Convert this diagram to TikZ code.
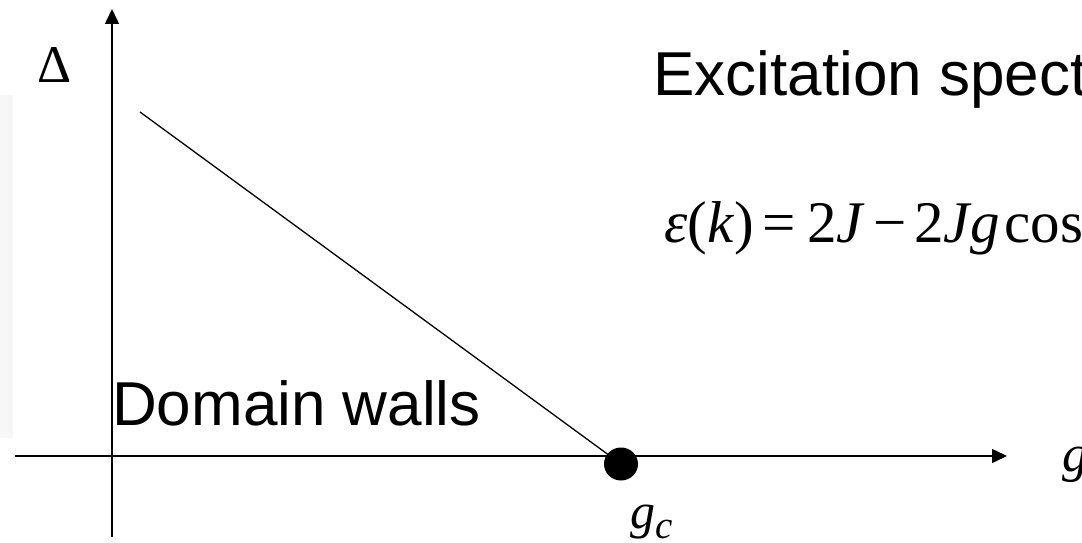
\documentclass[tikz,border=0pt]{standalone}
\usepackage{fontspec}
\setmainfont{Liberation Sans}
\newfontfamily\tms{Liberation Serif}
\usetikzlibrary{arrows.meta,shapes.geometric}
\tikzset{
  axisline/.style={line width=1.5pt, -{Triangle[length=15pt,width=14pt]}},
  curveline/.style={line width=1.3pt},
  lbl/.style={inner sep=0pt, anchor=base west},
  sanslbl/.style={lbl, font=\fontsize{62}{70}\selectfont},
  seriflbl/.style={lbl, font=\tms\fontsize{59}{64}\selectfont},
}
\begin{document}
\begin{tikzpicture}[x=1pt,y=1pt]
\clip (0,0) rectangle (1082,542);
\fill[white] (0,0) rectangle (1082,542);
\fill[black!3] (0,104) rectangle (13,447);
% axes
\coordinate (vb) at (112,5);
\coordinate (vt) at (112,533);
\coordinate (hl) at (15,86);
\coordinate (hr) at (1007,86);
\draw[axisline] (vb) -- (vt);
\draw[axisline] (hl) -- (hr);
% critical point
\node[fill=black, ellipse, minimum width=34pt, minimum height=33pt, inner sep=0pt] (gcdot) at (621,78) {};
\coordinate (lstart) at (140,430);
\draw[curveline] (lstart) -- (gcdot.center);
% labels
\node[lbl, font=\tms\fontsize{53}{60}\selectfont] (delta) at (37,459) {Δ};
\node[sanslbl] (title) at (653,446) {Excitation spectrum};
\node[seriflbl] (eq) at (664,300) {\textit{ε}(\textit{k})\hspace{9pt}=\hspace{11pt}2\textit{J}\hspace{8pt}−\hspace{8pt}2\textit{Jg}\hspace{5pt}cos};
\node[sanslbl] (dw) at (112,117) {Domain walls};
\node[lbl, font=\tms\fontsize{50}{56}\selectfont] (gclbl) at (630,14) {\textit{g}\raisebox{-10pt}{\fontsize{39}{40}\selectfont\textit{c}}};
\node[lbl, font=\tms\fontsize{52}{56}\selectfont] (glbl) at (1062,71) {\textit{g}};
\end{tikzpicture}
\end{document}
